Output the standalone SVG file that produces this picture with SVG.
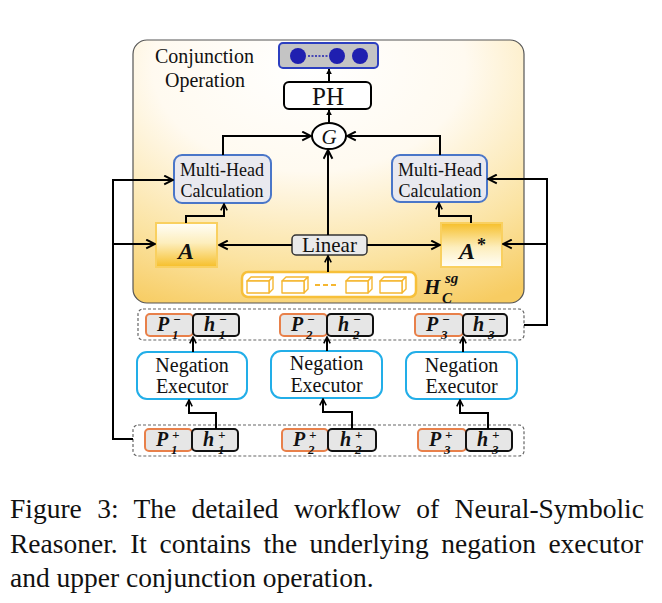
<svg xmlns="http://www.w3.org/2000/svg" width="662" height="603" viewBox="0 0 662 603">
<style>
.ser{font-family:"Liberation Serif","Times New Roman",serif;fill:#111}
.math{font-family:"Liberation Serif","Times New Roman",serif;font-weight:bold;font-style:italic;fill:#111}
.ln{fill:none;stroke:#000;stroke-width:2}
.mh{fill:#e9e9ef;stroke:#4a76c8;stroke-width:2}
.ne{fill:#fff;stroke:#22aee8;stroke-width:2}
.pb{fill:#e6e6e6;stroke:#e8804a;stroke-width:2}
.hb{fill:#e6e6e6;stroke:#111;stroke-width:2}
.row{fill:#fff;stroke:#666;stroke-width:1.2;stroke-dasharray:3 2}
.cub{fill:#fff;stroke:#f5b731;stroke-width:1.4;stroke-linejoin:round}
.big{font-size:20px}
.sup{font-size:13px}
.sub{font-size:13px}
</style>
<defs>
<radialGradient id="panelG" cx="0.45" cy="0.1" r="1" fx="0.45" fy="0.1">
<stop offset="0" stop-color="#ffffff"/>
<stop offset="0.4" stop-color="#fffaf0"/>
<stop offset="0.75" stop-color="#fbe3a2"/>
<stop offset="1" stop-color="#f7cc62"/>
</radialGradient>
<linearGradient id="aG" x1="0" y1="0" x2="0" y2="1">
<stop offset="0" stop-color="#fffef8"/>
<stop offset="0.45" stop-color="#fdeebd"/>
<stop offset="1" stop-color="#f6bf2a"/>
</linearGradient>
<linearGradient id="asG" x1="0" y1="1" x2="0" y2="0">
<stop offset="0" stop-color="#fffef8"/>
<stop offset="0.45" stop-color="#fdeebd"/>
<stop offset="1" stop-color="#f6bf2a"/>
</linearGradient>
<marker id="op" viewBox="0 0 10 10" refX="9" refY="5" markerWidth="11" markerHeight="11" markerUnits="userSpaceOnUse" orient="auto">
<path d="M1,1 L9,5 L1,9" fill="none" stroke="#000" stroke-width="1.8"/>
</marker>
<marker id="ops" viewBox="0 0 10 10" refX="9" refY="5" markerWidth="8" markerHeight="8" markerUnits="userSpaceOnUse" orient="auto">
<path d="M1,1 L9,5 L1,9" fill="none" stroke="#000" stroke-width="2"/>
</marker>
<marker id="tri" viewBox="0 0 10 10" refX="9" refY="5" markerWidth="6" markerHeight="6" markerUnits="userSpaceOnUse" orient="auto">
<path d="M0,0 L10,5 L0,10 z" fill="#000"/>
</marker>
<g id="cube">
<path class="cub" d="M0,4 L4,0 L26,0 L22,4 Z"/>
<path class="cub" d="M22,4 L26,0 L26,12 L22,16 Z"/>
<rect class="cub" x="0" y="4" width="22" height="12"/>
</g>
</defs>

<g id="panel">
<rect x="133" y="40" width="391" height="263" rx="14" fill="url(#panelG)" stroke="#555" stroke-width="1.2"/>
<text class="ser" x="155" y="63" font-size="20">Conjunction</text>
<text class="ser" x="165" y="87" font-size="20">Operation</text>
</g>

<g id="output">
<rect x="279" y="43" width="99" height="25" rx="4" fill="#c4c4c4" stroke="#2c3fc0" stroke-width="2"/>
<circle cx="298" cy="56" r="8" fill="#1f1fb0"/>
<line x1="308" y1="56" x2="328" y2="56" stroke="#1f1fb0" stroke-width="1.5" stroke-dasharray="2 1.5"/>
<circle cx="337" cy="56" r="8" fill="#1f1fb0"/>
<circle cx="360" cy="56" r="8" fill="#1f1fb0"/>
</g>

<g id="ph">
<rect x="284" y="82" width="87" height="27" rx="5" fill="#fff" stroke="#000" stroke-width="2"/>
<text class="ser" x="328" y="105" font-size="25" text-anchor="middle">PH</text>
</g>

<g id="gate">
<ellipse cx="329" cy="136" rx="17" ry="13" fill="#fff" stroke="#000" stroke-width="2"/>
<text class="ser" x="329" y="144" font-size="21" font-style="italic" text-anchor="middle">G</text>
</g>

<g id="mh-left">
<rect class="mh" x="174" y="155" width="97" height="48" rx="8"/>
<text class="ser" x="222" y="176" font-size="18" text-anchor="middle">Multi-Head</text>
<text class="ser" x="222" y="197" font-size="18" text-anchor="middle">Calculation</text>
</g>

<g id="mh-right">
<rect class="mh" x="392" y="155" width="95" height="47" rx="8"/>
<text class="ser" x="440" y="176" font-size="18" text-anchor="middle">Multi-Head</text>
<text class="ser" x="440" y="197" font-size="18" text-anchor="middle">Calculation</text>
</g>

<g id="a-box">
<rect x="156" y="223" width="61" height="44" fill="url(#aG)" stroke="#f9d060" stroke-width="2"/>
<text class="math" x="186" y="259" font-size="24" text-anchor="middle">A</text>
</g>

<g id="astar-box">
<rect x="441" y="223" width="61" height="44" fill="url(#asG)" stroke="#f9d060" stroke-width="2"/>
<text class="math" x="467" y="259" font-size="24" text-anchor="middle">A</text>
<text class="ser" x="477" y="251" font-size="18" font-weight="bold">*</text>
</g>

<g id="linear">
<rect x="292" y="235" width="75" height="20" rx="4" fill="#eaeaea" stroke="#333" stroke-width="1.5"/>
<text class="ser" x="329.5" y="252" font-size="21" text-anchor="middle">Linear</text>
</g>

<g id="hsg">
<rect x="242" y="272" width="174" height="25" rx="6" fill="#fff" stroke="#f7c03a" stroke-width="2.5"/>
<use href="#cube" x="247" y="277"/>
<use href="#cube" x="282" y="277"/>
<line x1="315" y1="285" x2="338" y2="285" stroke="#f5b731" stroke-width="1.8" stroke-dasharray="5 3"/>
<use href="#cube" x="346" y="277"/>
<use href="#cube" x="380" y="277"/>
<text class="math" x="424" y="294" font-size="21">H</text>
<text class="math" x="445" y="283" font-size="15">sg</text>
<text class="math" x="442" y="303" font-size="15">C</text>
</g>

<g id="neg-row">
<rect class="row" x="138" y="309" width="386" height="31" rx="5"/>
<rect class="pb" x="146" y="314" width="47" height="22" rx="4"/>
<rect class="hb" x="193" y="314" width="46" height="22" rx="4"/>
<rect class="pb" x="280" y="314" width="47" height="22" rx="4"/>
<rect class="hb" x="327" y="314" width="46" height="22" rx="4"/>
<rect class="pb" x="415" y="314" width="48" height="22" rx="4"/>
<rect class="hb" x="463" y="314" width="44" height="22" rx="4"/>
<text class="math big" x="157" y="331">P</text><text class="math sup" x="173" y="324">−</text><text class="math sub" x="172" y="339">1</text>
<text class="math big" x="204" y="331">h</text><text class="math sup" x="219" y="324">−</text><text class="math sub" x="219" y="339">1</text>
<text class="math big" x="291" y="331">P</text><text class="math sup" x="307" y="324">−</text><text class="math sub" x="306" y="339">2</text>
<text class="math big" x="338" y="331">h</text><text class="math sup" x="353" y="324">−</text><text class="math sub" x="353" y="339">2</text>
<text class="math big" x="426" y="331">P</text><text class="math sup" x="442" y="324">−</text><text class="math sub" x="441" y="339">3</text>
<text class="math big" x="473" y="331">h</text><text class="math sup" x="488" y="324">−</text><text class="math sub" x="488" y="339">3</text>
</g>

<g id="ne1">
<rect class="ne" x="137" y="352" width="110" height="47" rx="10"/>
<text class="ser" x="192" y="372" font-size="20" text-anchor="middle">Negation</text>
<text class="ser" x="192" y="393" font-size="20" text-anchor="middle">Executor</text>
</g>
<g id="ne2">
<rect class="ne" x="271" y="351" width="111" height="47" rx="10"/>
<text class="ser" x="326.5" y="370" font-size="20" text-anchor="middle">Negation</text>
<text class="ser" x="326.5" y="392" font-size="20" text-anchor="middle">Executor</text>
</g>
<g id="ne3">
<rect class="ne" x="406" y="352" width="111" height="47" rx="10"/>
<text class="ser" x="461.5" y="372" font-size="20" text-anchor="middle">Negation</text>
<text class="ser" x="461.5" y="393" font-size="20" text-anchor="middle">Executor</text>
</g>

<g id="pos-row">
<rect class="row" x="133" y="425" width="391" height="31" rx="5"/>
<rect class="pb" x="145" y="429" width="47" height="22" rx="4"/>
<rect class="hb" x="192" y="429" width="46" height="22" rx="4"/>
<rect class="pb" x="282" y="429" width="46" height="22" rx="4"/>
<rect class="hb" x="328" y="429" width="48" height="22" rx="4"/>
<rect class="pb" x="418" y="429" width="48" height="22" rx="4"/>
<rect class="hb" x="466" y="429" width="46" height="22" rx="4"/>
<text class="math big" x="156" y="446">P</text><text class="math sup" x="172" y="439">+</text><text class="math sub" x="171" y="454">1</text>
<text class="math big" x="203" y="446">h</text><text class="math sup" x="218" y="439">+</text><text class="math sub" x="218" y="454">1</text>
<text class="math big" x="293" y="446">P</text><text class="math sup" x="309" y="439">+</text><text class="math sub" x="308" y="454">2</text>
<text class="math big" x="340" y="446">h</text><text class="math sup" x="355" y="439">+</text><text class="math sub" x="355" y="454">2</text>
<text class="math big" x="429" y="446">P</text><text class="math sup" x="445" y="439">+</text><text class="math sub" x="444" y="454">3</text>
<text class="math big" x="477" y="446">h</text><text class="math sup" x="492" y="439">+</text><text class="math sub" x="492" y="454">3</text>
</g>

<g id="connectors">
<path class="ln" d="M329,82 L329,69" marker-end="url(#tri)" stroke-width="1.6"/>
<path class="ln" d="M329,123 L329,110" marker-end="url(#tri)" stroke-width="1.6"/>
<path class="ln" d="M223,155 L223,136 L311,136" marker-end="url(#op)"/>
<path class="ln" d="M440,155 L440,136 L347,136" marker-end="url(#op)"/>
<path class="ln" d="M328,235 L328,150" marker-end="url(#op)"/>
<path class="ln" d="M328,272 L328,256" marker-end="url(#ops)"/>
<path class="ln" d="M292,245 L219,245" marker-end="url(#op)"/>
<path class="ln" d="M367,245 L440,245" marker-end="url(#op)"/>
<path class="ln" d="M186,223 L186,216 L224,216 L224,204" marker-end="url(#ops)"/>
<path class="ln" d="M471,223 L471,216 L439,216 L439,203" marker-end="url(#ops)"/>
<path class="ln" d="M133,439 L113,439 L113,180 L173,180" marker-end="url(#op)"/>
<path class="ln" d="M113,244 L155,244" marker-end="url(#op)"/>
<path class="ln" d="M524,325 L547,325 L547,179 L488,179" marker-end="url(#op)"/>
<path class="ln" d="M547,244 L503,244" marker-end="url(#op)"/>
<path class="ln" d="M193,352 L193,337" marker-end="url(#ops)"/>
<path class="ln" d="M327,351 L327,337" marker-end="url(#ops)"/>
<path class="ln" d="M463,352 L463,337" marker-end="url(#ops)"/>
<path class="ln" d="M216,429 L216,413 L189,413 L189,400" marker-end="url(#ops)"/>
<path class="ln" d="M352,429 L352,412 L323,412 L323,399" marker-end="url(#ops)"/>
<path class="ln" d="M488,429 L488,413 L460,413 L460,400" marker-end="url(#ops)"/>
</g>

<g id="caption">
<text class="ser" x="10" y="518" font-size="27.5" word-spacing="8.5">Figure 3: The detailed workflow of Neural-Symbolic</text>
<text class="ser" x="10" y="553" font-size="27.5" word-spacing="5.6">Reasoner. It contains the underlying negation executor</text>
<text class="ser" x="10" y="587" font-size="27.5">and upper conjunction operation.</text>
</g>
</svg>
